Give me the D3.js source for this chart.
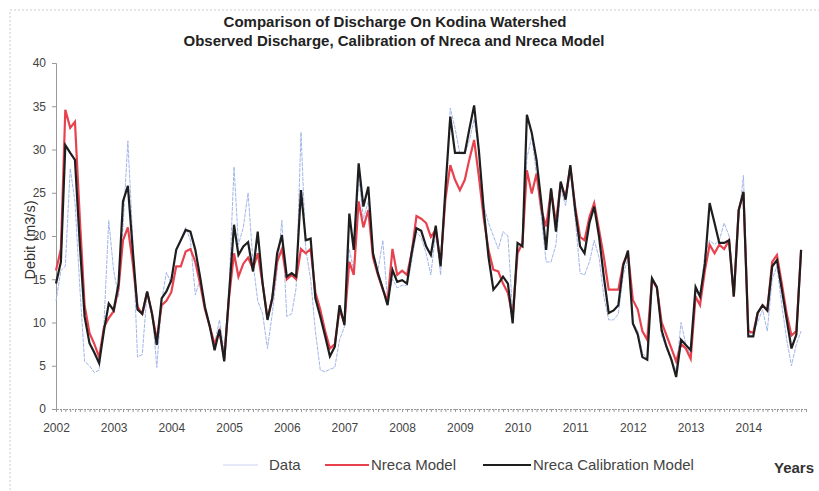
<!DOCTYPE html>
<html lang="en">
<head>
<meta charset="UTF-8">
<title>Comparison of Discharge On Kodina Watershed</title>
<script src="https://d3js.org/d3.v7.min.js"></script>
<style>
  body { margin: 0; background: #fff; font-family: "Liberation Sans", Arial, sans-serif; }
  .axis text { fill: #444; font-size: 12px; font-family: "Liberation Sans", Arial, sans-serif; }
  .axis path, .axis line { stroke: #999; }
</style>
</head>
<body>
<div id="chart"></div>
<script>
// monthly discharge values (m3/s), Jan 2002 .. Dec 2014, one row per year
const observed = [
  12.5, 16, 16.5, 27.8, 24, 14, 5.5, 5, 4.2, 4.5, 10, 21.8,
  16, 13, 21, 31, 20, 6, 6.3, 13.5, 11.5, 4.8, 12.5, 15.8,
  14.5, 18.5, 19.5, 21, 19.5, 13.2, 15, 11.5, 9.5, 7.5, 10.3, 6.5,
  14, 28, 19, 21, 25, 17, 12.5, 11, 7, 11, 16, 21.8,
  10.7, 11, 14, 32, 18.5, 15, 9, 4.5, 4.3, 4.6, 4.8, 8,
  9.5, 18.5, 16, 27, 22, 24, 18, 16, 19.5, 12.5, 15, 14,
  14.3, 14.3, 17, 20.5, 19.8, 18, 15.5, 20.5, 15.5, 25, 34.8, 32.5,
  29.5, 29.5, 31, 33.5, 30, 23.5, 21.5, 20, 18.5, 20.5, 20, 11,
  18, 19.5, 29, 31.5, 27, 22, 17, 17, 19, 25.5, 23.5, 27.5,
  22, 15.7, 15.5, 17, 19.5, 17.5, 13, 10.3, 10.3, 11, 15.5, 17.5,
  10, 9, 6.5, 5.8, 14.5, 14, 8.5, 7, 5.5, 4.5, 10, 7.5,
  6.2, 13.5, 13, 18, 19.5, 19, 19.5, 21.5, 20, 14, 22, 27,
  8.5, 9, 10, 11.5, 9, 15, 16.5, 12, 8, 5, 7.5, 9
];
const nreca = [
  16, 18.5, 34.6, 32.5, 33.2, 22, 12, 8.8, 7.5, 6, 9.5, 10.5,
  11.3, 14, 19.5, 21, 17, 11.8, 11, 13.5, 11, 8, 12, 12.5,
  13.5, 16.5, 16.5, 18.2, 18.5, 17, 14.5, 11.5, 9.5, 7.5, 9, 5.8,
  13, 18, 15.3, 16.8, 17.5, 16.2, 18, 14.5, 10.5, 12.8, 17, 18.5,
  15, 15.5, 15, 18.5, 18, 18.5, 13.5, 11.5, 9, 7, 7.5, 11.5,
  10, 17, 15.5, 24, 21, 23, 17.5, 15.5, 13.8, 12.5, 18.5, 15.5,
  16, 15.5, 18, 22.3, 22, 21.5, 19.9, 20.7, 16.8, 24.2, 28.2, 26.5,
  25.3, 26.5, 28.8, 31.1, 26.9, 22, 18.4, 16.1, 15.9, 14.5, 13.4, 10.7,
  18, 19.2, 27.6, 24.9, 27.2, 23, 21.1, 25.3, 21.5, 26.1, 24.5, 28,
  23.4, 19.9, 19.5, 22.2, 23.8, 20.7, 17.6, 13.8, 13.8, 13.8, 16.8, 18,
  12.6, 11.5, 9, 8, 15, 14, 10, 8.5, 7, 5.5, 7.5, 7,
  5.8, 13, 12, 16, 19, 18, 19, 18.5, 19.5, 13, 23, 25,
  9, 8.8, 11.1, 12, 11.4, 17, 17.8, 14.5, 11, 8.5, 9, 18.4
];
const calibration = [
  14.5, 17, 30.5, 29.6, 28.8, 19, 10.7, 7.6, 6.5, 5.3, 9.1, 12.2,
  11.4, 14.5, 24, 25.8, 18.6, 11.5, 11, 13.6, 11, 7.4, 12.8, 13.6,
  14.9, 18.4, 19.5, 20.7, 20.5, 18.4, 15.3, 11.8, 9.5, 6.8, 9.2, 5.5,
  13.4, 21.3, 17.8, 18.8, 19.3, 15.9, 20.5, 14.5, 10.3, 12.8, 18, 20.1,
  15.3, 15.7, 15.3, 25.3, 19.5, 19.7, 12.8, 10.7, 8.4, 6.1, 7.2, 12,
  9.7, 22.6, 18.4, 28.4, 23.4, 25.7, 18, 15.7, 13.9, 12, 16.1, 14.7,
  14.9, 14.5, 18, 20.9, 20.6, 18.8, 17.8, 21.2, 16.5, 25.3, 33.8, 29.6,
  29.6, 29.6, 32.3, 35.1, 29.9, 23, 17.6, 13.8, 14.5, 15.3, 14.5, 9.9,
  19.2, 18.8, 34, 31.9, 28.8, 23.8, 18.4, 25.5, 20.5, 26.3, 24.2, 28.2,
  23, 18.8, 18, 21.5, 23.4, 19.9, 15.3, 11.1, 11.4, 12, 16.6, 18.3,
  9.9, 8.6, 6, 5.7, 15.1, 14.1, 9.1, 7.2, 5.7, 3.7, 8, 7.4,
  6.8, 14.1, 13, 16.8, 23.8, 21.5, 19.2, 19.2, 19.5, 13, 23, 25.1,
  8.4, 8.4, 11.1, 12, 11.4, 16.5, 17.2, 13.8, 10.3, 7, 8.6, 18.4
];
const years = d3.range(2002, 2015);
const yTicks = [0, 5, 10, 15, 20, 25, 30, 35, 40];

const width = 819, height = 491;
const months = observed.map((d, i) => new Date(2002, i, 1));

const svg = d3.select("#chart").append("svg")
  .attr("width", width)
  .attr("height", height);

svg.append("rect")
  .attr("width", width).attr("height", height)
  .attr("fill", "#fff");

// faint frame of the original picture
svg.append("rect")
  .attr("x", 10).attr("y", 10)
  .attr("width", 820).attr("height", 500)
  .attr("fill", "none")
  .attr("stroke", "#ccc")
  .attr("stroke-dasharray", "2,2");

const x = d3.scaleTime()
  .domain([new Date(2002, 0, 1), new Date(2015, 0, 1)])
  .range([56, 806]);

const y = d3.scaleLinear()
  .domain([0, 40])
  .range([409, 63]);

// y axis
svg.append("g")
  .attr("class", "axis")
  .attr("transform", "translate(56,0)")
  .call(d3.axisLeft(y).tickValues(yTicks).tickSize(4).tickPadding(6))
  .call(g => g.select(".domain").attr("stroke", "#aaa"));

// x axis: small monthly ticks on a dotted base line
svg.append("g")
  .attr("class", "axis")
  .attr("transform", "translate(0,409)")
  .call(d3.axisBottom(x).ticks(d3.timeMonth.every(1)).tickSize(3).tickFormat(""))
  .call(g => g.select(".domain").attr("stroke", "#aaa").attr("stroke-dasharray", "2,1"))
  .call(g => g.selectAll(".tick line").attr("stroke", "#bbb"));

svg.append("g")
  .attr("class", "axis")
  .attr("transform", "translate(0,409)")
  .call(d3.axisBottom(x)
    .tickValues(years.map(yr => new Date(yr, 0, 1)))
    .tickSize(0).tickPadding(14)
    .tickFormat(d3.timeFormat("%Y")))
  .call(g => g.select(".domain").remove());

const line = d3.line()
  .x((d, i) => x(months[i]))
  .y(d => y(d));

svg.append("path")
  .datum(observed)
  .attr("d", line)
  .attr("fill", "none")
  .attr("stroke", "#a3b6ea")
  .attr("stroke-width", 1)
  .attr("stroke-dasharray", "4,1");

svg.append("path")
  .datum(nreca)
  .attr("d", line)
  .attr("fill", "none")
  .attr("stroke", "#e8424e")
  .attr("stroke-width", 2.2);

svg.append("path")
  .datum(calibration)
  .attr("d", line)
  .attr("fill", "none")
  .attr("stroke", "#1e1e1e")
  .attr("stroke-width", 2.2);

// titles
svg.append("text")
  .attr("x", 395).attr("y", 27)
  .attr("text-anchor", "middle")
  .attr("font-size", "15px")
  .attr("font-weight", "bold")
  .attr("fill", "#222")
  .text("Comparison of Discharge On Kodina Watershed");

svg.append("text")
  .attr("x", 394).attr("y", 46)
  .attr("text-anchor", "middle")
  .attr("font-size", "15px")
  .attr("font-weight", "bold")
  .attr("fill", "#222")
  .text("Observed Discharge, Calibration of Nreca and Nreca Model");

svg.append("text")
  .attr("transform", "translate(35,240) rotate(-90)")
  .attr("text-anchor", "middle")
  .attr("font-size", "14.5px")
  .attr("fill", "#333")
  .text("Debit (m3/s)");

svg.append("text")
  .attr("x", 774).attr("y", 473)
  .attr("font-size", "15px")
  .attr("font-weight", "bold")
  .attr("fill", "#333")
  .text("Years");

// legend
const legend = [
  { name: "Data", color: "#c9d4f0", w: 1, x: 223, len: 35 },
  { name: "Nreca Model", color: "#e8424e", w: 2.2, x: 325, len: 44 },
  { name: "Nreca Calibration Model", color: "#1e1e1e", w: 2, x: 483, len: 48 }
];
const lg = svg.append("g").selectAll("g").data(legend).join("g")
  .attr("transform", d => `translate(${d.x},465)`);
lg.append("line")
  .attr("x1", 0).attr("x2", d => d.len)
  .attr("stroke", d => d.color)
  .attr("stroke-width", d => d.w);
lg.append("text")
  .attr("x", d => d.name === "Data" ? d.len + 11 : d.len + 2)
  .attr("y", 5)
  .attr("font-size", "15px")
  .attr("fill", "#444")
  .text(d => d.name);
</script>
</body>
</html>
